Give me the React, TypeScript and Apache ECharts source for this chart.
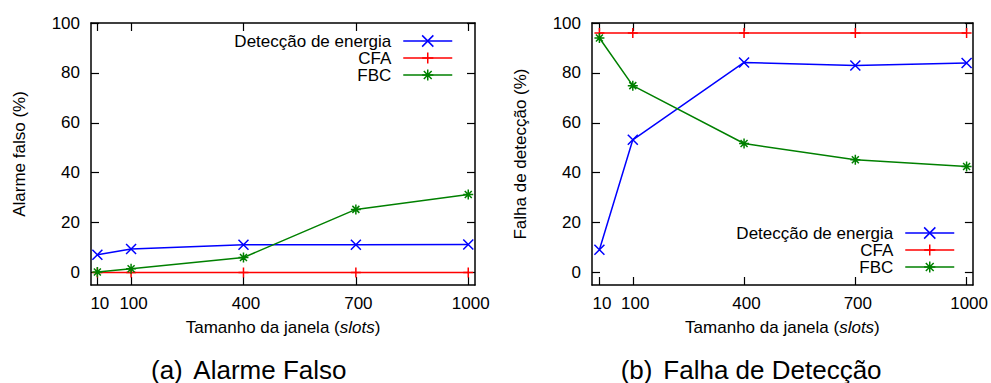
import React, { useEffect, useRef } from 'react';
import * as echarts from 'echarts';

const windowSizes = [10, 100, 400, 700, 1000];
const yTicks = [0, 20, 40, 60, 80, 100];
const seriesNames = ['Detecção de energia', 'CFA', 'FBC'];
const falseAlarmEnergy = [7.1, 9.4, 11.1, 11.1, 11.2];
const falseAlarmCFA = [0, 0, 0, 0, 0];
const falseAlarmFBC = [0.2, 1.5, 6.0, 25.3, 31.3];
const missEnergy = [9.1, 53.2, 84.2, 83.0, 84.0];
const missCFA = [96, 96, 96, 96, 96];
const missFBC = [94.0, 74.9, 51.7, 45.2, 42.5];
const captionTags = ['(a)', '(b)'];
const captionTitles = ['Alarme Falso', 'Falha de Detecção'];
const yAxisNames = ['Alarme falso (%)', 'Falha de detecção (%)'];
const xAxisName = 'Tamanho da janela';
const xAxisNameItalic = 'slots';

const FONT = '"Liberation Sans", Arial, Helvetica, sans-serif';
const colors = ['#0000ff', '#ff0000', '#008000'];
const symbols = [
  'path://M0,0L10,10M10,0L0,10',
  'path://M5,0L5,10M0,5L10,5',
  'path://M0,5L10,5M5,0L5,10M1.5,1.5L8.5,8.5M8.5,1.5L1.5,8.5',
];
const symbolSizes = [10, 10, 10];

const panels = [
  { left: 91, right: 516, xmin: -7, xmax: 1018, data: [falseAlarmEnergy, falseAlarmCFA, falseAlarmFBC] },
  { left: 592, right: 15, xmin: -10, xmax: 1017, data: [missEnergy, missCFA, missFBC] },
];

function buildOption() {
  const grids: any[] = [];
  const xAxes: any[] = [];
  const yAxes: any[] = [];
  const series: any[] = [];
  const frameLine = { show: true, onZero: false, lineStyle: { color: '#000', width: 1.5 } };
  const tickStyle = { color: '#000', width: 1.2 };
  const plain = (v: number) => String(v);

  panels.forEach((p, pi) => {
    grids.push({ left: p.left, right: p.right, top: 23, bottom: 98, containLabel: false });
    // bottom x
    xAxes.push({
      type: 'value', gridIndex: pi, position: 'bottom', min: p.xmin, max: p.xmax,
      axisLine: frameLine,
      axisTick: { show: true, inside: true, length: 8, customValues: windowSizes, lineStyle: tickStyle },
      axisLabel: { show: true, customValues: windowSizes, formatter: plain, margin: 10, fontSize: 17, color: '#000', fontFamily: FONT, padding: [0, 0, 0, 5] },
      splitLine: { show: false },
      name: `{n|${xAxisName} (}{i|${xAxisNameItalic}}{n|)}`,
      nameLocation: 'middle', nameGap: 34,
      nameTextStyle: {
        fontSize: 17, color: '#000', fontFamily: FONT,
        rich: {
          n: { fontSize: 17, color: '#000', fontFamily: FONT },
          i: { fontSize: 17, color: '#000', fontFamily: FONT, fontStyle: 'italic' },
        },
      },
    });
    // top x (mirror)
    xAxes.push({
      type: 'value', gridIndex: pi, position: 'top', min: p.xmin, max: p.xmax,
      axisLine: frameLine,
      axisTick: { show: true, inside: true, length: 8, customValues: windowSizes, lineStyle: tickStyle },
      axisLabel: { show: false },
      splitLine: { show: false },
    });
    // left y
    yAxes.push({
      type: 'value', gridIndex: pi, position: 'left', min: -5, max: 100,
      axisLine: frameLine,
      axisTick: { show: true, inside: true, length: 8, customValues: yTicks, lineStyle: tickStyle },
      axisLabel: { show: true, customValues: yTicks, formatter: plain, margin: 11, fontSize: 17, color: '#000', fontFamily: FONT },
      splitLine: { show: false },
      name: yAxisNames[pi], nameLocation: 'middle', nameGap: 63, nameRotate: 90,
      nameTextStyle: { fontSize: 17, color: '#000', fontFamily: FONT },
    });
    // right y (mirror)
    yAxes.push({
      type: 'value', gridIndex: pi, position: 'right', min: -5, max: 100,
      axisLine: frameLine,
      axisTick: { show: true, inside: true, length: 8, customValues: yTicks, lineStyle: tickStyle },
      axisLabel: { show: false },
      splitLine: { show: false },
    });

    p.data.forEach((vals, si) => {
      series.push({
        type: 'line',
        name: seriesNames[si],
        xAxisIndex: pi * 2,
        yAxisIndex: pi * 2,
        data: windowSizes.map((x, k) => [x, vals[k]]),
        symbol: symbols[si],
        symbolSize: symbolSizes[si],
        showSymbol: true,
        lineStyle: { color: colors[si], width: 1.5 },
        itemStyle: { color: colors[si], borderColor: colors[si], borderWidth: 1.5 },
        emphasis: { disabled: true },
        z: 2 + si,
      });
    });
  });

  const legendCommon = {
    orient: 'vertical',
    align: 'right',
    padding: 0,
    itemGap: 0,
    itemWidth: 49,
    itemHeight: 14,
    selectedMode: false,
    data: seriesNames,
    textStyle: { fontSize: 17, color: '#000', fontFamily: FONT, padding: [0, 7, 0, 0] },
    lineStyle: { width: 1.5 },
    itemStyle: { borderWidth: 1.5 },
  };

  const legends = [
    { ...legendCommon, right: 538, top: 32.5 },
    { ...legendCommon, right: 36, top: 224.5 },
  ];

  const graphics: any[] = [];
  const tagX = [151, 620.7];
  const titleX = [193.3, 663.3];
  captionTags.forEach((t, i) => {
    graphics.push({
      type: 'text', x: tagX[i], y: 370,
      style: { text: t, fontSize: 26, fontFamily: FONT, fill: '#000', align: 'left', verticalAlign: 'middle' },
    });
    graphics.push({
      type: 'text', x: titleX[i], y: 370,
      style: { text: captionTitles[i], fontSize: 26, fontFamily: FONT, fill: '#000', align: 'left', verticalAlign: 'middle' },
    });
  });

  return {
    animation: false,
    backgroundColor: '#ffffff',
    grid: grids,
    xAxis: xAxes,
    yAxis: yAxes,
    legend: legends,
    series,
    graphic: graphics,
  };
}

export default function App() {
  const ref = useRef<HTMLDivElement>(null);
  useEffect(() => {
    if (!ref.current) return;
    const chart = echarts.init(ref.current, undefined, { renderer: 'svg' });
    chart.setOption(buildOption() as any);
    return () => chart.dispose();
  }, []);
  return (
    <div
      ref={ref}
      style={{ position: 'fixed', left: 0, top: 0, width: 991, height: 383, background: '#fff' }}
    />
  );
}
